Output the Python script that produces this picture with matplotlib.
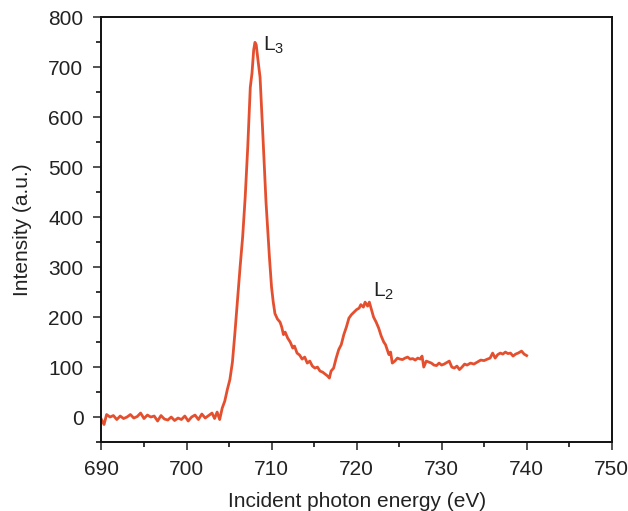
import matplotlib
matplotlib.use("Agg")
import matplotlib.pyplot as plt
from matplotlib.ticker import MultipleLocator

plt.rcParams["font.family"] = ["Liberation Sans", "DejaVu Sans"]
plt.rcParams["mathtext.fontset"] = "custom"
plt.rcParams["mathtext.rm"] = "Liberation Sans"

# spectrum
energy = [
    690.0, 690.3, 690.6, 691.0, 691.4, 691.8, 692.2, 692.6, 693.0, 693.4,
    693.8, 694.2, 694.6, 695.0, 695.4, 695.8, 696.2, 696.6, 697.0, 697.4,
    697.8, 698.2, 698.6, 699.0, 699.4, 699.8, 700.2, 700.6, 701.0, 701.4,
    701.8, 702.2, 702.6, 703.0, 703.3, 703.6, 703.9, 704.2, 704.5, 704.8,
    705.1, 705.4, 705.7, 706.0, 706.3, 706.6, 706.9, 707.2, 707.5, 707.7,
    707.9, 708.05, 708.2, 708.4, 708.65, 708.95, 709.35, 709.75, 710.0, 710.2,
    710.4, 710.7, 711.0, 711.2, 711.4, 711.6, 711.9, 712.2, 712.5, 712.7,
    713.0, 713.3, 713.6, 713.9, 714.2, 714.5, 714.8, 715.1, 715.4, 715.7,
    716.0, 716.3, 716.6, 716.8, 717.0, 717.3, 717.6, 717.9, 718.2, 718.5,
    718.8, 719.1, 719.4, 719.7, 720.0, 720.3, 720.5, 720.8, 721.0, 721.3,
    721.5, 721.7, 722.0, 722.3, 722.6, 722.9, 723.2, 723.4, 723.6, 723.8,
    724.0, 724.2, 724.5, 724.8, 725.1, 725.4, 725.7, 726.0, 726.3, 726.6,
    726.9, 727.2, 727.5, 727.7, 727.9, 728.2, 728.5, 728.8, 729.1, 729.4,
    729.7, 730.0, 730.3, 730.6, 730.9, 731.2, 731.5, 731.8, 732.1, 732.4,
    732.7, 733.0, 733.4, 733.8, 734.2, 734.6, 735.0, 735.4, 735.7, 736.0,
    736.3, 736.6, 736.9, 737.2, 737.5, 737.8, 738.1, 738.4, 738.7, 739.0,
    739.4, 739.7, 740.0,
]
intensity = [
    -5, -15, 5, 0, 3, -5, 2, -3, 0, 5,
    -2, 1, 8, -3, 4, 0, 2, -8, 3, -4,
    -6, 0, -7, -2, -5, 2, -8, 0, 4, -5,
    6, -2, 3, 8, -3, 10, -5, 18, 32, 55,
    75, 110, 170, 235, 300, 360, 440, 540, 660, 688,
    735, 750, 745, 715, 680, 575, 430, 320, 260, 230,
    207, 196, 190, 180, 165, 170, 158, 150, 138, 142,
    128, 124, 116, 120, 108, 112, 102, 98, 100, 92,
    90, 86, 82, 78, 92, 98, 118, 135, 145, 165,
    180, 198, 205, 210, 215, 218, 225, 220, 230, 222,
    230, 218, 200, 190, 178, 162, 150, 145, 135, 125,
    130, 108, 112, 118, 116, 115, 118, 120, 116, 117,
    114, 118, 116, 122, 100, 112, 110, 108, 104, 103,
    108, 104, 106, 109, 112, 100, 98, 102, 95, 100,
    106, 104, 108, 106, 110, 114, 113, 116, 118, 128,
    118, 125, 128, 126, 130, 127, 128, 122, 126, 128,
    132, 126, 123,
]

peak_labels = [r"$\mathregular{L_3}$", r"$\mathregular{L_2}$"]
peak_label_pos = [(709.0, 745), (721.9, 252)]

fig = plt.figure(figsize=(6.28, 5.11), dpi=100)
ax = fig.add_axes([0.1616, 0.135, 0.8124, 0.831])

ax.plot(energy, intensity, color="#e4502f", lw=2.0)

for lab, (px, py) in zip(peak_labels, peak_label_pos):
    ax.text(px, py, lab, fontsize=15, va="center", ha="left", color="#222222")

ax.set_xlim(690, 750)
ax.set_ylim(-50, 800)
ax.xaxis.set_major_locator(MultipleLocator(10))
ax.xaxis.set_minor_locator(MultipleLocator(5))
ax.yaxis.set_major_locator(MultipleLocator(100))
ax.yaxis.set_minor_locator(MultipleLocator(50))

ax.tick_params(which="major", length=6, width=1.1, labelsize=15,
               colors="#222222", pad=7)
ax.tick_params(which="minor", length=3.5, width=1.1)
for sp in ax.spines.values():
    sp.set_linewidth(1.4)
    sp.set_color("#111111")

ax.set_xlabel("Incident photon energy (eV)", fontsize=15, color="#222222", labelpad=9)
ax.set_ylabel("Intensity (a.u.)", fontsize=15, color="#222222", labelpad=12)

fig.savefig("out.png", dpi=100)
